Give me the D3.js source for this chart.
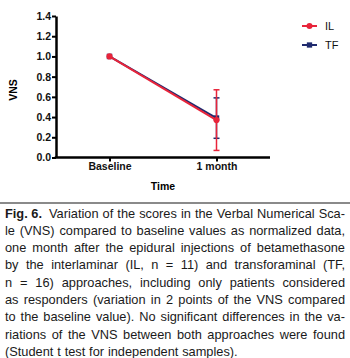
<!DOCTYPE html>
<html><head><meta charset="utf-8">
<script src="https://cdn.jsdelivr.net/npm/d3@7"></script>
<style>body{margin:0;background:#fff}svg{display:block}</style>
</head><body>
<svg id="c" width="350" height="358"></svg>
<script>
const categories = ["Baseline", "1 month"];
const ilValues = [1.0, 0.37];
const ilErrors = [0, 0.30];
const tfValues = [1.0, 0.39];
const tfErrors = [0, 0.20];
const yTicks = [0, 0.2, 0.4, 0.6, 0.8, 1.0, 1.2, 1.4];
const seriesNames = ["IL", "TF"];
const captionLines = [
  "Variation of the scores in the Verbal Numerical Sca-",
  "le (VNS) compared to baseline values as normalized data,",
  "one month after the epidural injections of betamethasone",
  "by the interlaminar (IL, n = 11) and transforaminal (TF,",
  "n = 16) approaches, including only patients considered",
  "as responders (variation in 2 points of the VNS compared",
  "to the baseline value). No significant differences in the va-",
  "riations of the VNS between both approaches were found",
  "(Student t test for independent samples)."
];

const RED = "#e8243a", NAVY = "#1f2a6e";
const svg = d3.select("#c");
const x = d3.scalePoint().domain(categories).range([56, 270]).padding(0.5);
const y = d3.scaleLinear().domain([0, 1.4]).range([157.5, 16]);
const bold = "'Liberation Sans', Arial, sans-serif";

// axes
const yAx = svg.append("g").attr("transform", "translate(56,0)")
  .call(d3.axisLeft(y).tickValues(yTicks).tickFormat(d3.format(".1f")).tickSize(4).tickSizeOuter(0));
yAx.select(".domain").attr("stroke", "#000").attr("stroke-width", 2.5);
yAx.selectAll(".tick line").attr("stroke-width", 2);
yAx.selectAll(".tick text").attr("font-family", bold).attr("font-weight", "bold").attr("font-size", 10.5).attr("fill", "#111").attr("x", -5);

const xAx = svg.append("g").attr("transform", "translate(0,157.5)")
  .call(d3.axisBottom(x).tickSize(4).tickSizeOuter(0));
xAx.select(".domain").attr("stroke", "#000").attr("stroke-width", 2.5).attr("d", "M54.75,0H270");
xAx.selectAll(".tick line").attr("stroke-width", 2);
xAx.selectAll(".tick text").attr("font-family", bold).attr("font-weight", "bold").attr("font-size", 10.5).attr("fill", "#111").attr("dy", "0.55em");

svg.append("text").attr("transform", "translate(17,90) rotate(-90)").attr("text-anchor", "middle")
  .attr("font-family", bold).attr("font-weight", "bold").attr("font-size", 10.5).text("VNS");
svg.append("text").attr("x", 163).attr("y", 190).attr("text-anchor", "middle")
  .attr("font-family", bold).attr("font-weight", "bold").attr("font-size", 10.5).text("Time");

function drawSeries(vals, errs, color, shape) {
  const g = svg.append("g");
  const pts = categories.map((c, i) => ({c, v: vals[i], e: errs[i]}));
  g.append("path").datum(pts).attr("fill", "none").attr("stroke", color).attr("stroke-width", 2)
    .attr("d", d3.line().x(d => x(d.c)).y(d => y(d.v)));
  pts.filter(d => d.e > 0).forEach(d => {
    const cx = x(d.c);
    g.append("line").attr("x1", cx).attr("x2", cx).attr("y1", y(d.v + d.e)).attr("y2", y(d.v - d.e)).attr("stroke", color).attr("stroke-width", 1.5);
    [d.v + d.e, d.v - d.e].forEach(v => g.append("line").attr("x1", cx - 3).attr("x2", cx + 3).attr("y1", y(v)).attr("y2", y(v)).attr("stroke", color).attr("stroke-width", 1.5));
  });
  g.selectAll(".m").data(pts).enter().append("path")
    .attr("transform", d => `translate(${x(d.c)},${y(d.v)})`)
    .attr("d", d3.symbol().type(shape).size(30)).attr("fill", color);
}
drawSeries(tfValues, tfErrors, NAVY, d3.symbolSquare);
drawSeries(ilValues, ilErrors, RED, d3.symbolCircle);

// legend
const legend = [{n: seriesNames[0], c: RED, s: d3.symbolCircle}, {n: seriesNames[1], c: NAVY, s: d3.symbolSquare}];
legend.forEach((l, i) => {
  const ly = 26 + i * 19;
  svg.append("line").attr("x1", 302).attr("x2", 317).attr("y1", ly).attr("y2", ly).attr("stroke", l.c).attr("stroke-width", 2);
  svg.append("path").attr("transform", `translate(309.5,${ly})`).attr("d", d3.symbol().type(l.s).size(28)).attr("fill", l.c);
  svg.append("text").attr("x", 325).attr("y", ly + 4).attr("font-family", bold).attr("font-size", 11).attr("fill", "#111").text(l.n);
});

// separator
svg.append("line").attr("x1", 0).attr("x2", 350).attr("y1", 203).attr("y2", 203).attr("stroke", "#8a8a8a").attr("stroke-width", 2);

// caption, justified
const capFont = "'Liberation Sans', Arial, sans-serif";
const fs = 12.8;
const left = 5, right = 345;
const meas = svg.append("text").attr("font-family", capFont).attr("font-size", fs).attr("visibility", "hidden");
function w(s, b) { meas.attr("font-weight", b ? "bold" : "normal").text(s); return meas.node().getComputedTextLength(); }
const spaceW = fs * 0.3;
captionLines.forEach((line, li) => {
  const by = 217.5 + li * 17.3;
  let words = line.split(" ").map(t => ({t, b: false}));
  if (li === 0) words = [{t: "Fig. 6.", b: true, extra: 3}].concat(words);
  const widths = words.map(d => w(d.t, d.b));
  const total = d3.sum(widths) + d3.sum(words, d => d.extra || 0);
  const justify = li < captionLines.length - 1;
  const gap = justify ? (right - left - total) / (words.length - 1) : spaceW;
  let cx = left;
  words.forEach((d, i) => {
    svg.append("text").attr("x", cx).attr("y", by).attr("font-family", capFont).attr("font-size", fs)
      .attr("font-weight", d.b ? "bold" : "normal").attr("fill", "#1a1a1a").text(d.t);
    cx += widths[i] + gap + (d.extra || 0);
  });
});
meas.remove();
</script>
</body></html>
